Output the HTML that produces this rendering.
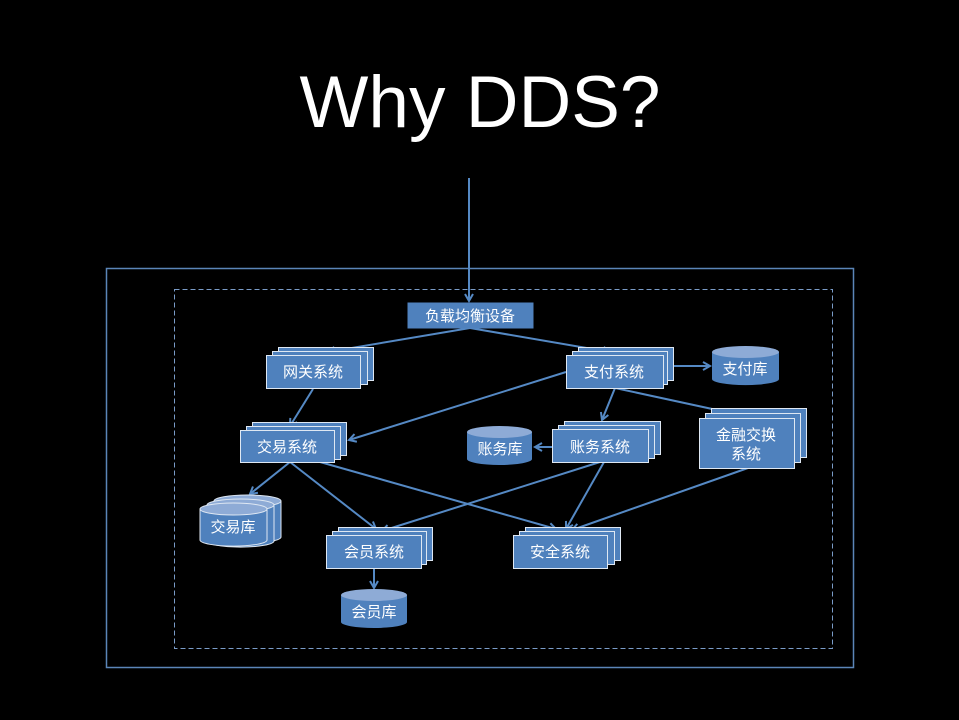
<!DOCTYPE html>
<html><head><meta charset="utf-8"><style>
html,body{margin:0;padding:0;background:#000;}
svg{display:block;}
text{font-family:"Liberation Sans","Noto Sans CJK SC",sans-serif;}
.t{fill:#fff;font-size:15px;text-anchor:middle;}
</style></head><body>
<svg width="959" height="720" viewBox="0 0 959 720" xmlns="http://www.w3.org/2000/svg">
<defs>
<marker id="a" markerWidth="10" markerHeight="10" refX="8" refY="5" orient="auto" markerUnits="userSpaceOnUse">
<path d="M1,1 L8,5 L1,9" fill="none" stroke="#5589c4" stroke-width="2"/>
</marker>
</defs>
<rect width="959" height="720" fill="#000"/>
<text x="480" y="127" fill="#fff" font-size="73" text-anchor="middle" style="font-family:'Liberation Sans',sans-serif">Why DDS?</text>
<rect x="106.5" y="268.5" width="747" height="399" fill="none" stroke="#5b85b8" stroke-width="1.5"/>
<rect x="174.5" y="289.5" width="658" height="359" fill="none" stroke="#7a9cc8" stroke-width="1" stroke-dasharray="5,3"/>
<g stroke="#5589c4" stroke-width="2" fill="none" marker-end="url(#a)">
<line x1="469" y1="178" x2="469" y2="301"/>
<line x1="470" y1="328" x2="328" y2="352"/>
<line x1="470" y1="328" x2="610" y2="352"/>
<line x1="313" y1="389" x2="290" y2="426"/>
<line x1="566" y1="372" x2="349" y2="440"/>
<line x1="673" y1="366" x2="710" y2="366"/>
<line x1="615" y1="388" x2="602" y2="420"/>
<line x1="615" y1="388" x2="740" y2="415"/>
<line x1="552" y1="447" x2="535" y2="447"/>
<line x1="290" y1="462" x2="250" y2="494"/>
<line x1="290" y1="462" x2="376" y2="529"/>
<line x1="320" y1="462" x2="556" y2="529"/>
<line x1="600" y1="462" x2="382" y2="531"/>
<line x1="604" y1="462" x2="566" y2="529"/>
<line x1="748" y1="468" x2="572" y2="530"/>
<line x1="374" y1="568" x2="374" y2="588"/>
</g>
<g fill="#4f81bd" stroke="#dfe8f3" stroke-width="1">
<rect x="407.5" y="302.5" width="126" height="26" stroke="none"/>
<rect x="278.5" y="347.5" width="95" height="33"/><rect x="272.5" y="351.5" width="95" height="33"/><rect x="266.5" y="355.5" width="94" height="33"/>
<rect x="578.5" y="347.5" width="95" height="33"/><rect x="572.5" y="351.5" width="95" height="33"/><rect x="566.5" y="355.5" width="97" height="33"/>
<rect x="252.5" y="422.5" width="94" height="33"/><rect x="246.5" y="426.5" width="94" height="33"/><rect x="240.5" y="430.5" width="94" height="32"/>
<rect x="564.5" y="421.5" width="96" height="33"/><rect x="558.5" y="425.5" width="96" height="33"/><rect x="552.5" y="429.5" width="96" height="33"/>
<rect x="711.5" y="408.5" width="95" height="49"/><rect x="705.5" y="413.5" width="95" height="49"/><rect x="699.5" y="418.5" width="95" height="50"/>
<rect x="338.5" y="527.5" width="94" height="33"/><rect x="332.5" y="531.5" width="94" height="33"/><rect x="326.5" y="535.5" width="95" height="33"/>
<rect x="525.5" y="527.5" width="95" height="33"/><rect x="519.5" y="531.5" width="95" height="33"/><rect x="513.5" y="535.5" width="94" height="33"/>
</g>
<g stroke="#dfe8f3" stroke-width="1">
<g>
<path d="M214,501 v36 a33,6 0 0 0 67,0 v-36" fill="#4f81bd"/><ellipse cx="247.5" cy="501" rx="33.5" ry="6" fill="#8eabd6"/>
<path d="M207,505 v36 a33,6 0 0 0 67,0 v-36" fill="#4f81bd"/><ellipse cx="240.5" cy="505" rx="33.5" ry="6" fill="#8eabd6"/>
<path d="M200,509 v31 a33,6 0 0 0 67,0 v-31" fill="#4f81bd"/><ellipse cx="233.5" cy="509" rx="33.5" ry="6" fill="#8eabd6"/>
</g>
<path d="M712,352 v27 a33,6 0 0 0 67,0 v-27" fill="#4f81bd" stroke="none"/><ellipse cx="745.5" cy="352" rx="33.5" ry="6" fill="#8eabd6" stroke="none"/>
<path d="M467,432 v27 a32.5,6 0 0 0 65,0 v-27" fill="#4f81bd" stroke="none"/><ellipse cx="499.5" cy="432" rx="32.5" ry="6" fill="#8eabd6" stroke="none"/>
<path d="M341,595 v27 a33,6 0 0 0 66,0 v-27" fill="#4f81bd" stroke="none"/><ellipse cx="374" cy="595" rx="33" ry="6" fill="#8eabd6" stroke="none"/>
</g>
<text class="t" x="470" y="321">负载均衡设备</text>
<text class="t" x="313" y="377">网关系统</text>
<text class="t" x="614" y="377">支付系统</text>
<text class="t" x="745" y="374">支付库</text>
<text class="t" x="287" y="452">交易系统</text>
<text class="t" x="500" y="454">账务库</text>
<text class="t" x="600" y="452">账务系统</text>
<text class="t" x="746" y="440">金融交换</text>
<text class="t" x="746" y="459">系统</text>
<text class="t" x="233" y="532">交易库</text>
<text class="t" x="374" y="557">会员系统</text>
<text class="t" x="560" y="557">安全系统</text>
<text class="t" x="374" y="617">会员库</text>
</svg>
</body></html>
